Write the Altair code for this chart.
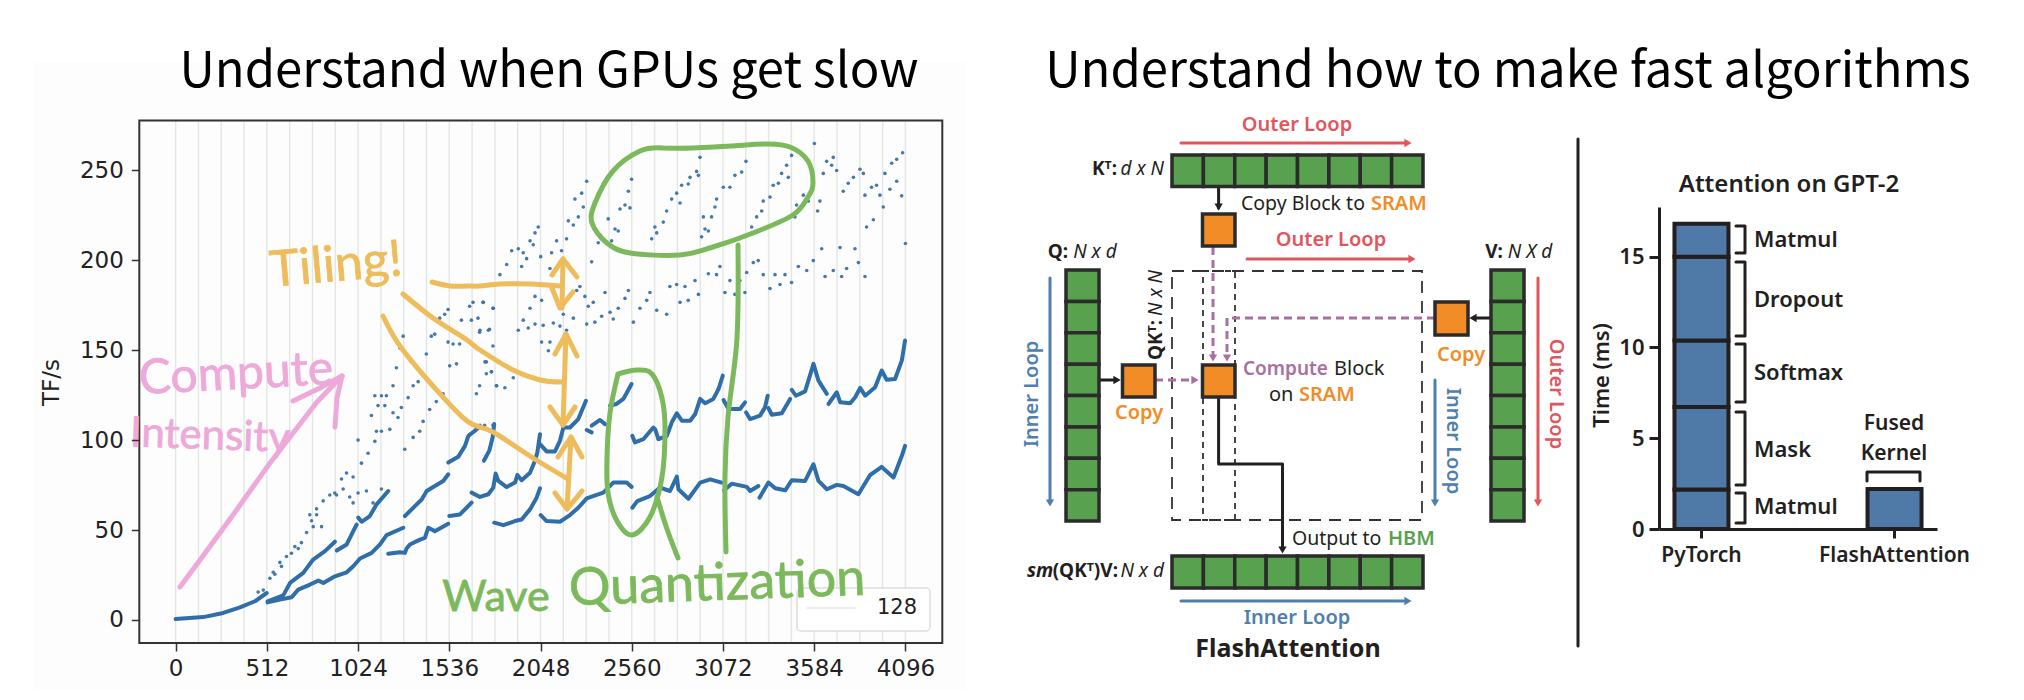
import altair as alt
import pandas as pd

# ---------- left chart values ----------
grid_x = list(range(0, 4097, 128))
dense_segments = [
    ([0, 155, 267, 361, 445, 511], [0.5, 1.6, 3.9, 7, 10.4, 15]),
    ([516, 585, 651, 688, 754, 801, 829, 894, 960, 997, 1035, 1100, 1147, 1184, 1278], [9.8, 11.3, 12.6, 16.9, 19.7, 21.9, 20.6, 24.3, 26.5, 29.9, 34.2, 37.3, 42, 47.2, 51.3]),
    ([516, 604, 642, 716, 772, 838, 894], [10.4, 13.7, 20.6, 26.2, 33.6, 38.3, 43.5]),
    ([904, 960, 997, 1016], [38.6, 42, 49.4, 53.1]),
    ([1025, 1044, 1090, 1128, 1193], [56.9, 54.6, 57.8, 64.3, 71.7]),
    ([1193, 1259, 1287, 1296, 1315, 1371, 1399, 1418, 1455, 1530], [36.8, 37.7, 37.3, 39.7, 42, 44.7, 45.7, 51.3, 49.4, 53.5]),
    ([1287, 1343, 1381, 1409, 1455, 1502, 1530], [57.8, 63.3, 67, 71.7, 74.5, 77.3, 81]),
    ([1530, 1586, 1624, 1643, 1680, 1708], [87.5, 90.7, 96.8, 102.4, 105.2, 108]),
    ([1730, 1760, 1779, 1788], [88.5, 94, 101.5, 108.9]),
    ([1536, 1596, 1661], [57.8, 58.7, 65.2]),
    ([1661, 1708, 1755, 1783, 1796, 1811, 1858, 1905, 1918, 1942, 1989, 2017, 2030, 2045], [70.8, 68.4, 69.9, 73.6, 81.4, 77.3, 73.9, 76.4, 80.6, 77.7, 81.9, 88.5, 93.1, 103.3]),
    ([2045, 2082, 2129, 2157, 2176, 2213, 2260, 2303], [97.8, 93.7, 93.7, 99.6, 107, 107, 111.7, 121.9]),
    ([1788, 1839, 1904, 1942, 1989, 2026, 2045], [54.1, 52.7, 55, 55.9, 61.5, 68, 73.2]),
    ([2049, 2082, 2157, 2213, 2260, 2307, 2400, 2456, 2531, 2559], [58.3, 55, 54.6, 58.3, 62.4, 67.6, 70.8, 76.4, 76.4, 74]),
    ([2307, 2335], [105.6, 104.3]),
    ([2335, 2382, 2410], [108, 111.2, 108.9]),
    ([2438, 2475, 2513, 2559], [119.2, 120.1, 122.9, 131.2]),
    ([2563, 2578, 2625, 2681, 2691, 2710], [102.4, 98.7, 100.5, 107, 106.1, 100.6]),
    ([2710, 2757, 2785, 2813, 2841, 2888, 2916, 2944, 2972, 3018, 3047, 3071], [100.6, 102.4, 109.9, 114.9, 110.8, 110.8, 114.5, 122.9, 120.5, 122.9, 128.4, 135.9]),
    ([2563, 2591, 2662, 2719, 2775, 2813, 2822, 2878, 2944, 3000, 3065], [62.4, 66.1, 68.9, 73.6, 71.7, 79.7, 72.7, 67.4, 76.4, 78.2, 76.4]),
    ([3078, 3121, 3206, 3224, 3271], [72.1, 75.8, 74, 71.7, 74.5]),
    ([3075, 3103, 3168, 3196], [122.3, 117.3, 117.3, 121]),
    ([3202, 3224, 3280, 3308, 3323], [115.4, 111.7, 113.6, 118.2, 124.7]),
    ([3327, 3346, 3402, 3449], [117.8, 114.1, 114.9, 122.9]),
    ([3458, 3481, 3533, 3580, 3608, 3655], [127.9, 124.7, 127.1, 142.4, 133.1, 125.7]),
    ([3664, 3711, 3730, 3786, 3814, 3842, 3870, 3926, 3963, 3991, 4038, 4076, 4094], [120.1, 126.6, 121, 120.5, 123.8, 129, 124.7, 129.4, 138.7, 133.5, 134, 144.3, 155.4]),
    ([3277, 3327, 3365, 3421, 3458, 3533, 3580, 3608, 3655, 3711, 3748, 3832, 3898, 3963, 4029, 4076, 4094], [68, 76.4, 73.2, 72.1, 77.7, 77.3, 86.6, 77.3, 72.7, 75.1, 74.5, 69.9, 80.6, 85.1, 79.2, 91.3, 96.8]),
]
sparse_x = [
    463, 492, 529, 557, 594, 622, 650, 688, 735, 763, 791, 828, 865, 893, 931, 959, 996, 1043, 1080, 1118, 1024, 1127,
    1155, 1202, 1099, 1118, 1155, 1183, 1136, 1174, 1220, 1239, 1258, 1277, 1286, 1333, 1370, 1389, 1426, 1463, 1501,
    1220, 1248, 1267, 1305, 1333, 1361, 1407, 1435, 1454, 1482, 1510, 1529, 1529, 1557, 1594, 1538, 1576, 1604, 1650,
    1669, 1660, 1697, 1706, 1762, 1725, 1781, 1688, 1706, 1744, 1772, 1800, 1744, 1781, 1734, 1781,
    548, 585, 669, 706, 772, 819, 753, 791, 903, 940, 977, 996, 1024, 1071, 1108, 1155,
    1820, 1858, 1886, 1923, 1951, 1942, 1970, 1989, 2017, 2035, 2007, 2049, 2110, 2138, 2166, 2194, 2101, 2204, 2232,
    2260, 2241, 2279, 2307, 2288, 2335, 2372, 2428, 2447, 2466, 2484, 2494, 2522, 2550, 2541, 2559, 2672, 2690, 2700,
    2737, 2756, 2784, 2812, 2831, 2840, 2877, 2887, 2924, 2934, 2943, 2952, 2971, 2990, 2962, 3008, 3027, 3036, 3074,
    3111, 3139, 3177, 3201, 3233, 3261, 3289, 3298, 3336, 3354, 3383, 3401, 3429, 3457, 3439, 3476, 3485, 3523, 3551,
    3585, 3603, 3616, 3635, 3654, 3691, 3682, 3710, 3747, 3775, 3804, 3841, 3860, 3878, 3916, 3869, 3906, 3934, 3953,
    3972, 3981, 4019, 4047, 4080, 4009, 4047, 4075, 4096,
    1708, 1755, 1783, 1727, 1736, 1773, 1802, 1848, 1895, 1923, 1951, 1989, 2017, 2054, 1979, 2017, 2063, 2120, 2157,
    2194, 2232, 2054, 2101, 2092, 2176, 2251, 2269, 2297, 2316, 2344, 2410, 2307, 2353, 2391, 2438, 2456, 2484, 2522,
    2541, 2569, 2606, 2644, 2662, 2700, 2756, 2774, 2812, 2859, 2831, 2877, 2915, 2934, 2990, 3036, 3055, 3111, 3083,
    3139, 3167, 3195, 3205, 3242, 3270, 3298, 3364, 3336, 3392, 3420, 3457, 3495, 3542, 3579, 3626, 3645, 3691, 3729,
    3738, 3766, 3813, 3832, 3869,
]
sparse_y = [
    15.5, 16.6, 23.2, 25.4, 29.8, 35.3, 37.1, 39.7, 48.6, 55.2, 58.5, 66.2, 69.5, 70.6, 78.4, 81.7, 79.5, 87.2, 92.7, 99.3, 100, 104.9,
    104.9, 106, 113.7, 124.7, 124.7, 124.7, 119.2, 119.2, 130.2, 140.2, 151.2, 157.8, 94.9, 101.5, 104.9, 110.4, 117, 121.4, 125.8,
    115.2, 112.6, 118.1, 123.6, 130.2, 132.5, 147.9, 157.8, 158.9, 167.8, 170, 172.6, 154.5, 153.4, 153.4, 141.3, 142.4, 166.7, 174.4,
    176.6, 166.7, 167.8, 160, 161.6, 176.6, 173.3, 125.8, 130.2, 136.9, 138, 130.2, 143.5, 152.3, 108.2, 108.2,
    26.5, 32, 40.8, 43, 51.9, 51.9, 58.5, 61.8, 69.5, 72.8, 68.4, 65.1, 70.6, 71.7, 65.1, 72.8,
    192, 197.6, 205.3, 206.4, 204.2, 196.5, 200.9, 210.8, 215.2, 218.5, 208.6, 202, 204.2, 210.8, 205.3, 211.9, 195.4, 221.9, 219.6,
    224.1, 234, 237.3, 243.9, 229.6, 199.1, 209.7, 223, 210.8, 217.4, 216.3, 228.5, 230.7, 229.1, 238.4, 245, 211.9, 218.5, 215.2,
    221.2, 227.4, 234, 237.3, 231.8, 241.7, 242.4, 246.1, 249.4, 247.2, 257.2, 213, 217.4, 216.3, 224.1, 224.1, 229.6, 234, 240.6,
    240.6, 247.2, 249, 255, 218.5, 224.1, 227.4, 232.9, 235.1, 241.7, 242.8, 248.3, 252.8, 258.3, 246.1, 224.1, 230.7, 236.2, 232.9,
    264.9, 227.4, 232.9, 248.3, 255, 257.2, 252.8, 249.9, 238.4, 242.8, 246.1, 250.6, 248.3, 218.5, 222.5, 236.2, 240.6, 241.7, 236.2,
    229.6, 248.3, 253.9, 256.1, 259.8, 239.5, 243.9, 235.8, 209.3,
    161.1, 161.1, 173.3, 176.6, 143.5, 138, 130.2, 129.1, 134.7, 161.1, 166.7, 173.3, 179.9, 177.7, 162.3, 164.5, 163.8, 165.1, 163.4,
    161.1, 167.8, 154.5, 154.5, 149.7, 170, 183.2, 185.4, 179.9, 174.4, 176.6, 182.1, 164.5, 165.6, 168.9, 171.1, 167.3, 173.3, 178.8,
    183.2, 165.6, 173.3, 177.7, 182.1, 172.2, 170, 185.4, 186.5, 185.4, 176.6, 177.7, 188.7, 181, 192.5, 192, 196.5, 188.7, 182.1,
    181, 188.7, 182.1, 193.2, 198.7, 199.8, 192, 192, 184.3, 186.5, 192, 187.6, 196.5, 194.3, 199.8, 206.4, 191, 194.3, 207.1,
    191, 195.4, 206.4, 198.7, 191,
]
x_ticks = [0, 512, 1024, 1536, 2048, 2560, 3072, 3584, 4096]
y_ticks = [0, 50, 100, 150, 200, 250]

# ---------- right chart values ----------
bar_model = ["PyTorch", "PyTorch", "PyTorch", "PyTorch", "PyTorch", "FlashAttention"]
bar_step = ["Matmul", "Mask", "Softmax", "Dropout", "Matmul 2", "Fused Kernel"]
bar_time = [2.17, 4.55, 3.66, 4.62, 1.82, 2.2]

# ---------- page set-up ----------
W, H = 2008, 684
BLUE, GREEN, RED, ORANGE, PURPLE = "#4f7fae", "#58a24f", "#e2555d", "#f28c26", "#a8709f"
INK = "#231f20"
DOT = "#3a72a8"
PINK, YEL, LIME = "#eda9d9", "#eebc5b", "#7cb95c"
HAND = "Lato"
SANS = "Noto Sans"
CJK = "Noto Sans CJK JP"
BOLD = 600

SX = alt.Scale(domain=[0, 2024], range=[-8, 2016], nice=False, zero=False)
SY = alt.Scale(domain=[0, 700], range=[-8, 692], nice=False, zero=False)
PX = alt.Scale(domain=[-204, 4303], range=[131.3, 934.3], nice=False, zero=False)
PY = alt.Scale(domain=[-12.8, 277.7], range=[635, 112.5], nice=False, zero=False)
BX = alt.Scale(domain=["PyTorch", "FlashAttention"], range=[1651, 1929], paddingInner=0.7, paddingOuter=0.07)
BY = alt.Scale(domain=[0, 17.74], range=[521, 199], nice=False, zero=False)


def xy(df):
    return dict(x=alt.X("x:Q", scale=SX, axis=None), y=alt.Y("y:Q", scale=SY, axis=None))


def strokes(paths, color, width, interpolate="linear", dash=None):
    rows = []
    for k, p in enumerate(paths):
        for i, (a, b) in enumerate(p):
            rows.append(dict(x=a, y=b, k=k, i=i))
    df = pd.DataFrame(rows)
    kw = dict(color=color, strokeWidth=width, strokeCap="round", strokeJoin="round", interpolate=interpolate)
    if dash:
        kw.update(strokeDash=dash, strokeCap="butt")
    return alt.Chart(df).mark_line(**kw).encode(**xy(df), detail="k:N", order="i:Q")


def boxes(rects, fill, stroke=None, width=0, dash=None, radius=0):
    df = pd.DataFrame(rects, columns=["x", "y", "x2", "y2"])
    kw = dict(fill=fill, strokeWidth=width, cornerRadius=radius)
    if stroke:
        kw.update(stroke=stroke)
    if dash:
        kw.update(strokeDash=dash)
    if fill is None:
        kw.update(fill="white", fillOpacity=0)
    return alt.Chart(df).mark_rect(**kw).encode(**xy(df), x2="x2:Q", y2="y2:Q")


def heads(points, shape, color, size=70):
    df = pd.DataFrame(points, columns=["x", "y"])
    return alt.Chart(df).mark_point(shape=shape, filled=True, color=color, size=size, opacity=1).encode(**xy(df))


def label(s, x, y, size=20, color=INK, weight=400, style="normal", angle=0, align="center", font=SANS, stroke=None, sw=0):
    df = pd.DataFrame([dict(x=x, y=y, t=s)])
    kw = dict(fontSize=size, color=color, fontWeight=weight, fontStyle=style, angle=angle, align=align,
              baseline="middle", font=font)
    if stroke:
        kw.update(stroke=stroke, strokeWidth=sw)
    return alt.Chart(df).mark_text(**kw).encode(**xy(df), text="t:N")


# ---------- left plot ----------
scatter_df = pd.DataFrame(dict(x=sparse_x, y=sparse_y))
nx = alt.X("x:Q", scale=PX, axis=None)
ny = alt.Y("y:Q", scale=PY, axis=None)

grid_df = pd.DataFrame(dict(x=grid_x, y=[-12.8] * len(grid_x), y2=[277.7] * len(grid_x)))
grid = alt.Chart(grid_df).mark_rule(color="#e3e7e3", strokeWidth=1.4).encode(x=nx, y=ny, y2="y2:Q")
frame_df = pd.DataFrame([dict(x=-204, x2=4303, y=-12.8, y2=277.7)])
frame = alt.Chart(frame_df).mark_rect(fill="white", fillOpacity=0, stroke="#333333", strokeWidth=2).encode(
    x=nx, x2="x2:Q", y=ny, y2="y2:Q")
dots = alt.Chart(scatter_df).mark_circle(color=DOT, size=13, opacity=0.95).encode(x=nx, y=ny)
dense_rows = []
for k, (xs, ys) in enumerate(dense_segments):
    for i, (a, b) in enumerate(zip(xs, ys)):
        dense_rows.append(dict(x=a, y=b, k=k, i=i))
dense = alt.Chart(pd.DataFrame(dense_rows)).mark_line(color="#2f6ea9", strokeWidth=4, strokeJoin="round", strokeCap="round").encode(
    x=nx, y=ny, detail="k:N", order="i:Q")
plot = alt.layer(grid, dense, dots, frame)

# a separate invisible view carries the left plot's axes
plot_axes = alt.Chart(scatter_df).mark_point(opacity=0).encode(
    x=alt.X("x:Q", scale=PX, axis=alt.Axis(
        orient="bottom", offset=-(H - 635), values=x_ticks, grid=False, domain=False, format="d", zindex=1,
        tickColor="#333333", tickWidth=1.5, tickSize=8, labelFont="DejaVu Sans", labelFontSize=23,
        labelColor="#222222", labelPadding=6, title=None, labelOverlap=False, labelFlush=False)),
    y=alt.Y("y:Q", scale=PY, axis=alt.Axis(
        orient="left", offset=-131.3, values=y_ticks, grid=False, domain=False, zindex=1,
        tickColor="#333333", tickWidth=1.5, tickSize=8, labelFont="DejaVu Sans", labelFontSize=23,
        labelColor="#222222", labelPadding=8, title="TF/s", titleFont="DejaVu Sans", titleFontSize=23,
        titleFontWeight="normal", titleColor="#222222", titleX=-76, titleY=374, labelOverlap=False)))

# ---------- right bar chart ----------
bars_df = pd.DataFrame(dict(model=bar_model, step=bar_step, time=bar_time, i=range(len(bar_time))))
bars = alt.Chart(bars_df).mark_bar(fill="#4f7aa8", stroke=INK, strokeWidth=4, size=54).encode(
    x=alt.X("model:N", scale=BX, axis=alt.Axis(
        orient="bottom", offset=-(H - 521), title=None, labelAngle=0, domainColor=INK, domainWidth=3,
        tickColor=INK, tickWidth=3, tickSize=9, labelFont=SANS, labelFontSize=21, labelFontWeight=BOLD,
        labelColor=INK, labelPadding=6)),
    y=alt.Y("time:Q", stack="zero", scale=BY, axis=alt.Axis(
        orient="left", offset=-(1659 - 8), values=[0, 5, 10, 15], grid=False, domainColor=INK, domainWidth=3,
        tickColor=INK, tickWidth=3, tickSize=10, labelFont=SANS, labelFontSize=22, labelFontWeight=BOLD,
        labelColor=INK, labelPadding=5, title="Time (ms)", titleFont=SANS, titleFontSize=22,
        titleFontWeight=BOLD, titleColor=INK, titleX=-46, titleY=367)),
    detail="step:N", order="i:Q")

# ---------- overlay: titles, handwriting, diagram ----------
under = boxes([(33, 62, 965, 690)], "#fdfdfd")

o = []
o.append(label("Understand when GPUs get slow", 549, 72, size=49, color="#000000", font=CJK))
o.append(label("Understand how to make fast algorithms", 1508, 72, size=49, color="#000000", font=CJK))

# handwriting
o.append(strokes([
    [(180, 587), (200, 560), (233, 515), (270, 463), (317, 402), (342, 376)],
    [(293, 401), (320, 388), (342, 376)], [(335, 427), (337, 398), (342, 376)]], PINK, 5))
o.append(label("Compute", 236, 375, size=48, color=PINK, angle=357, font=HAND, stroke=PINK, sw=0.8))
o.append(label("Intensity", 210, 436, size=42, color=PINK, angle=2, font=HAND, stroke=PINK, sw=0.8))
o.append(label("Tiling!", 336, 266, size=50, color=YEL, angle=355, font=HAND, stroke=YEL, sw=0.8))
o.append(strokes([
    [(432, 282), (450, 286), (467, 286), (480, 286), (500, 284), (530, 284), (560, 286)],
    [(403, 294), (433, 318), (467, 340), (480, 350), (513, 370), (540, 380), (562, 382)],
    [(383, 316), (400, 346), (433, 386), (467, 421), (493, 432), (533, 458), (568, 479)],
], YEL, 5, "cardinal"))
o.append(strokes([
    [(563, 259), (562, 308)], [(552, 275), (563, 259), (577, 277)], [(552, 288), (560, 308), (573, 292)],
    [(566, 334), (563, 425)], [(555, 354), (566, 334), (577, 356)], [(550, 407), (563, 425), (575, 407)],
    [(571, 437), (567, 509)], [(558, 457), (571, 437), (582, 457)], [(555, 493), (567, 509), (582, 491)],
], YEL, 5))
o.append(strokes([
    [(663, 148), (640, 151), (613, 171), (595, 203), (592, 223), (607, 243), (630, 253), (680, 255), (713, 247),
     (753, 233), (793, 215), (808, 197), (813, 183), (808, 161), (790, 147), (767, 144), (730, 146), (693, 148), (663, 148)],
    [(738, 245), (737, 338), (728, 417), (725, 477), (726, 552)],
    [(618, 374), (637, 370), (652, 374), (662, 398), (665, 429), (662, 477), (650, 517), (632, 535), (617, 521),
     (608, 493), (607, 457), (610, 413), (618, 374)],
    [(657, 497), (667, 529), (678, 558)],
], LIME, 5, "cardinal"))
o.append(label("Wave", 496, 598, size=43, color=LIME, font=HAND, stroke=LIME, sw=0.8))
o.append(boxes([(797, 588, 930, 631)], "white", "#dddddd", 1.5, radius=4))
o.append(strokes([[(807, 608), (855, 608)]], "#e3e7e3", 1.5))
o.append(label("128", 897, 608, size=21, color="#222222", font="DejaVu Sans"))
o.append(label("Quantization", 717, 584, size=52, color=LIME, angle=358, font=HAND, stroke=LIME, sw=0.8))

# diagram: dashed boxes and arrows
o.append(boxes([(1172, 271, 1422, 520)], None, "#333333", 1.8, dash=[12, 8]))
o.append(boxes([(1203, 271, 1235, 520)], None, "#333333", 1.8, dash=[6, 5]))
o.append(strokes([[(1213, 247), (1213, 355)], [(1435, 318), (1227, 318), (1227, 355)], [(1155, 380), (1192, 380)]],
                 PURPLE, 3, dash=[8, 5]))
o.append(heads([(1213, 358), (1227, 358)], "triangle-down", PURPLE))
o.append(heads([(1195, 380)], "triangle-right", PURPLE))
o.append(strokes([[(1218.6, 186), (1218.6, 208)], [(1099, 380), (1116, 380)], [(1491, 318), (1475, 318)],
                  [(1218.6, 397), (1218.6, 464), (1282.5, 464), (1282.5, 548)]], INK, 3))
o.append(heads([(1218.6, 207)], "triangle-down", INK))
o.append(heads([(1117, 380)], "triangle-right", INK))
o.append(heads([(1473, 318)], "triangle-left", INK))
o.append(heads([(1282.5, 550)], "triangle-down", INK))
o.append(strokes([[(1181, 143), (1405, 143)], [(1247, 259), (1409, 259)], [(1538, 278), (1538, 500)]], RED, 3))
o.append(heads([(1408, 143), (1412, 259)], "triangle-right", RED))
o.append(heads([(1538, 503)], "triangle-down", RED))
o.append(strokes([[(1050, 278), (1050, 500)], [(1435, 380), (1435, 500)], [(1181, 601), (1405, 601)]], BLUE, 3))
o.append(heads([(1050, 503), (1435, 503)], "triangle-down", BLUE))
o.append(heads([(1408, 601)], "triangle-right", BLUE))

# diagram: cell strips
cw = (1423 - 1172) / 8
ch = (521 - 270) / 8
cells = []
for n in range(8):
    cells.append((1172 + n * cw, 155, 1172 + (n + 1) * cw, 186.4))
    cells.append((1172 + n * cw, 556, 1172 + (n + 1) * cw, 588))
    cells.append((1066, 270 + n * ch, 1099, 270 + (n + 1) * ch))
    cells.append((1491, 270 + n * ch, 1524, 270 + (n + 1) * ch))
o.append(boxes(cells, GREEN, "#2b2b2b", 3.5))
o.append(boxes([(1202.5, 214, 1235, 246), (1122.5, 365, 1155, 397), (1202.5, 365, 1235, 397), (1435, 302, 1468, 335)],
               ORANGE, "#2b2b2b", 3.5))

# diagram: labels
for s, x, y in [("Outer Loop", 1297, 125), ("Outer Loop", 1331, 240)]:
    o.append(label(s, x, y, size=20, color=RED, weight=BOLD))
o.append(label("Outer Loop", 1556, 394, size=20, color=RED, weight=BOLD, angle=90))
o.append(label("Inner Loop", 1032, 394, size=20, color=BLUE, weight=BOLD, angle=270))
o.append(label("Inner Loop", 1453, 441, size=20, color=BLUE, weight=BOLD, angle=90))
o.append(label("Inner Loop", 1297, 618, size=20, color=BLUE, weight=BOLD))
o.append(label("FlashAttention", 1288, 649, size=25, weight=700))
o.append(label("K\u1d40:", 1117, 169, size=19, weight=700, align="right"))
o.append(label("d x N", 1164, 169, size=19, style="italic", align="right"))
o.append(label("Q:", 1058, 252, size=19, weight=700))
o.append(label("N x d", 1095, 252, size=19, style="italic"))
o.append(label("V:", 1494, 252, size=19, weight=700))
o.append(label("N X d", 1530, 252, size=19, style="italic"))
o.append(label("QK\u1d40:", 1156, 340, size=19, weight=700, angle=270))
o.append(label("N x N", 1156, 293, size=19, style="italic", angle=270))
o.append(label("Copy Block to", 1241, 204, size=19.5, align="left"))
o.append(label("SRAM", 1371, 204, size=20, color=ORANGE, weight=BOLD, align="left"))
o.append(label("Copy", 1139, 413, size=20, color=ORANGE, weight=BOLD))
o.append(label("Copy", 1461, 355, size=20, color=ORANGE, weight=BOLD))
o.append(label("Compute", 1243, 369, size=19, color=PURPLE, weight=BOLD, align="left"))
o.append(label("Block", 1334, 369, size=20, align="left"))
o.append(label("on", 1269, 395, size=20, align="left"))
o.append(label("SRAM", 1299, 395, size=20, color=ORANGE, weight=BOLD, align="left"))
o.append(label("Output to", 1292, 539, size=19.5, align="left"))
o.append(label("HBM", 1388, 539, size=20, color=GREEN, weight=BOLD, align="left"))
o.append(label("sm", 1027, 571, size=19, weight=700, style="italic", align="left"))
o.append(label("(QK\u1d40)V:", 1118, 571, size=19, weight=700, align="right"))
o.append(label("N x d", 1164, 571, size=19, style="italic", align="right"))

# divider and bar annotations
o.append(strokes([[(1578, 139), (1578, 646)]], INK, 3))
def bracket(t, b):
    return [(1736, t), (1745, t), (1745, b), (1736, b)]
o.append(strokes([bracket(226, 253), bracket(262, 336), bracket(344, 402), bracket(412, 485), bracket(493, 523),
                  [(1867, 481), (1867, 472), (1920, 472), (1920, 481)]], INK, 3))
o.append(label("Attention on GPT-2", 1789, 185, size=24, weight=BOLD))
for s, y in [("Matmul", 240), ("Dropout", 300), ("Softmax", 373), ("Mask", 450), ("Matmul", 507)]:
    o.append(label(s, 1754, y, size=22, weight=BOLD, align="left"))
o.append(label("Fused", 1894, 424, size=21, weight=BOLD))
o.append(label("Kernel", 1894, 454, size=21, weight=BOLD))
over = alt.layer(*o)

chart = alt.layer(under, plot, plot_axes, bars, over).resolve_scale(x="independent", y="independent").properties(
    width=W, height=H, padding=0, background="white"
).configure_view(stroke=None)

chart.save("out.html", embed_options={"renderer": "svg", "actions": False})
